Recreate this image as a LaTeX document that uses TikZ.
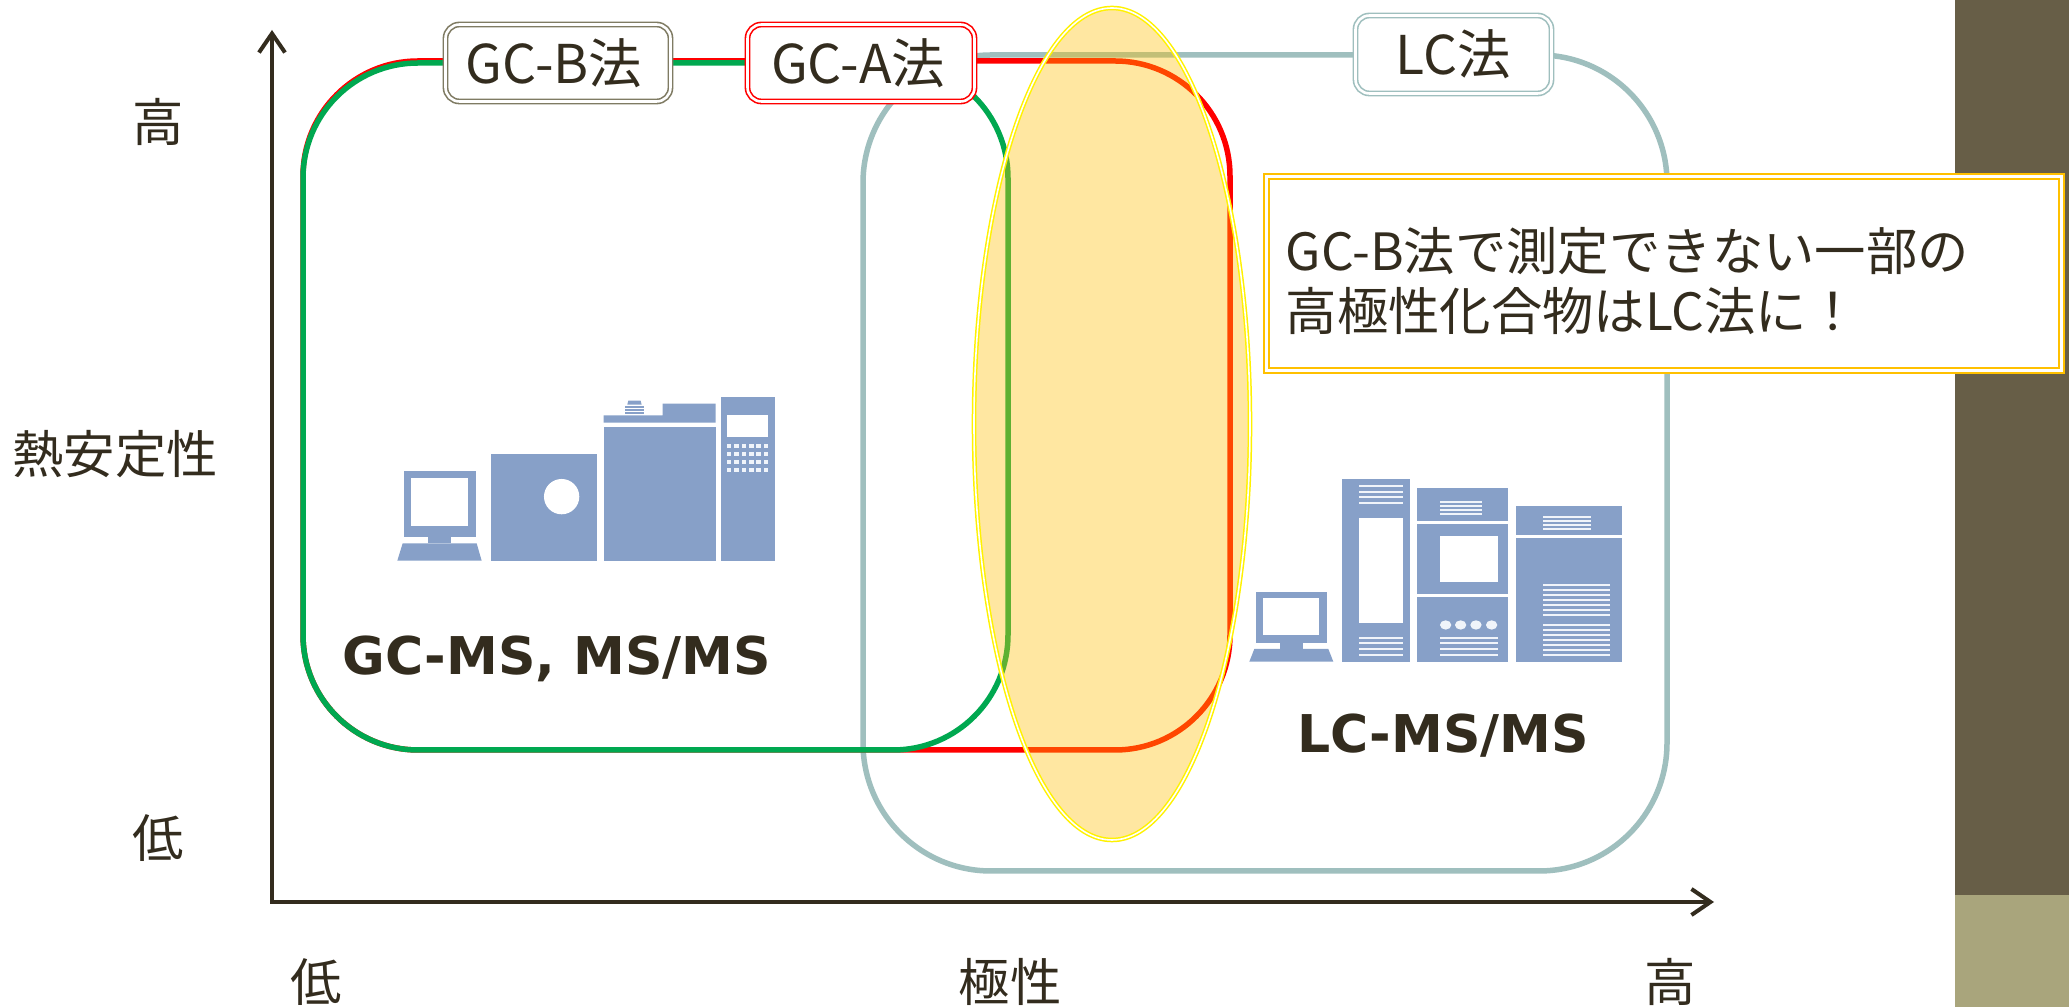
\documentclass[tikz,border=0pt]{standalone}
\usepackage{fontspec}
\usetikzlibrary{arrows.meta,shapes.geometric}
\setmainfont{Noto Sans CJK JP}
\newfontfamily\boldlatin{DejaVu Sans}
\newdimen\px \px=0.01cm
\newcommand\remarkfont{\fontsize{14.6}{17}\selectfont\lineskiplimit=-20pt\relax}
\definecolor{inkbrown}{HTML}{332C1E}
\definecolor{panelDark}{HTML}{675E47}
\definecolor{panelLight}{HTML}{A9A57C}
\definecolor{gcgreen}{HTML}{00A850}
\definecolor{lcteal}{HTML}{9FBFBE}
\definecolor{gold}{HTML}{FFC000}
\definecolor{instrument}{HTML}{87A0C8}
\definecolor{stripe}{HTML}{F0F4FA}
\definecolor{tagbrown}{HTML}{7F7B63}
\pgfdeclareradialshading{pageglow}{\pgfpoint{0bp}{0bp}}{%
  color(0bp)=(white); color(52bp)=(white); color(60bp)=(white!97!black); color(71bp)=(white!90!black); color(100bp)=(white!90!black)}
\tikzset{
  region/.style={line width=5.5\px, rounded corners=115\px},
  axisline/.style={draw=inkbrown, line width=4\px, -{Straight Barb[length=5.4pt,width=7.4pt,line width=1.14pt]}},
  tag/.style={draw=#1, double=white, line width=1.6\px, double distance=2.6\px, fill=white,
    rounded corners=14\px, inner sep=0pt, text=inkbrown, font=\fontsize{15.2}{18}\selectfont},
  axislabel/.style={text=inkbrown, inner sep=0pt, font=\fontsize{14.6}{17}\selectfont},
  instrname/.style={text=inkbrown, inner sep=0pt, font=\fontsize{14.8}{17}\selectfont\boldlatin\bfseries},
  unit/.style={fill=instrument},
  hole/.style={fill=white},
  line/.style={fill=stripe},
}
\begin{document}
\begin{tikzpicture}[x=1\px,y=-1\px]
\useasboundingbox (0,0) rectangle (2069,1007);
% page background with its soft corners
\begin{scope}
  \clip (0,0) rectangle (1955,1007);
  \shade[shading=pageglow] (-130,0) rectangle (1955,1007);
\end{scope}
\fill[panelDark] (1955,0) rectangle (2069,895);
\fill[panelLight] (1955,895) rectangle (2069,1007);

% axes
\coordinate (origin) at (272,902);
\coordinate (ytip) at (272,30);
\coordinate (xtip) at (1714,902);
\draw[axisline, line cap=rect] (origin) -- (ytip);
\draw[axisline] (origin) -- (xtip);
\node[axislabel] (yhigh) at (158,122) {高};
\node[axislabel] (ytitle) at (115,454) {熱安定性};
\node[axislabel] (ylow) at (158,838) {低};
\node[axislabel] (xlow) at (316,982) {低};
\node[axislabel] (xtitle) at (1010,982) {極性};
\node[axislabel] (xhigh) at (1670,982) {高};

% method ranges
\draw[region, lcteal, rounded corners=128\px] (863,55) rectangle (1667,871);
\draw[region, red] (303,61) rectangle (1230,750);
\draw[region, gcgreen] (303,63) rectangle (1008,750);

% overlap highlight
\fill[gold, fill opacity=.37] (1112,424) ellipse [x radius=138, y radius=416];
\draw[draw=yellow, double=white, line width=1.5\px, double distance=1.6\px] (1112,424) ellipse [x radius=138, y radius=416];

% method tags
\node[tag=tagbrown, minimum width=225\px, minimum height=77\px] (gcb) at (558,63) {GC-B法\kern8\px};
\node[tag=red, minimum width=227\px, minimum height=77\px] (gca) at (861,63) {GC-A法\kern6\px};
\node[tag=lcteal, minimum width=196\px, minimum height=78\px] (lc) at (1453.5,54.5) {LC法};

% remark box
\node[draw=gold, double=white, line width=2\px, double distance=3\px, fill=white, sharp corners,
  minimum width=795\px, minimum height=194\px, inner sep=0pt] (remark) at (1664,274) {};
\node[anchor=west, text=inkbrown, inner sep=0pt, align=left,
  font=\remarkfont] (remarktext) at (1285,281) {GC-B法で測定できない一部の\\高極性化合物はLC法に！};

% gas chromatograph set
\begin{scope}[shift={(380,380)}, x=.3333\px, y=-.3333\px]
  \fill[unit] (71,272) rectangle (288,470);
  \fill[hole] (93,293) rectangle (265,437);
  \fill[unit] (145,470) rectangle (213,490);
  \fill[unit] (68,490) -- (290,490) -- (305,542) -- (52,542) -- cycle;
  \fill[unit] (332,222) rectangle (652,542);
  \fill[hole] (545,350) circle [radius=53];
  \fill[unit] (671,142) rectangle (1007,542);
  \fill[unit] (671,106) -- (848,106) -- (848,71) -- (1007,71) -- (1007,128) -- (671,128) -- cycle;
  \fill[unit] (745,62) -- (782,62) -- (785,74) -- (742,74) -- cycle;
  \fill[unit] (735,79) rectangle (792,85);
  \fill[unit] (735,88) rectangle (792,93);
  \fill[unit] (735,96) rectangle (792,101);
  \fill[unit] (1022,52) rectangle (1185,542);
  \fill[hole] (1040,104) rectangle (1165,170);
  \foreach \cx in {1047,1069,1092,1114,1136,1158}
    \foreach \cy in {198,222,246,270}
      \fill[line] (\cx-7,\cy-7) rectangle (\cx+7,\cy+7);
\end{scope}
\node[instrname] (gcname) at (557,659) {GC-MS, MS/MS};

% liquid chromatograph set
\begin{scope}[shift={(1230,460)}, x=.3333\px, y=-.3333\px]
  \fill[unit] (78,396) rectangle (290,550);
  \fill[hole] (100,413) rectangle (268,524);
  \fill[unit] (150,550) rectangle (218,567);
  \fill[unit] (73,567) -- (295,567) -- (310,605) -- (58,605) -- cycle;
  \fill[unit] (336,57) rectangle (541,605);
  \fill[hole] (387,175) rectangle (518,490);
  \foreach \cy in {78,96,112,128,534,550,567,584}
    \fill[line] (387,\cy-3) rectangle (518,\cy+3);
  \fill[unit] (560,85) rectangle (834,183);
  \foreach \cy in {126,137,150,162}
    \fill[line] (630,\cy-3) rectangle (757,\cy+3);
  \fill[unit] (560,193) rectangle (834,402);
  \fill[hole] (630,229) rectangle (803,366);
  \fill[unit] (560,412) rectangle (834,605);
  \foreach \cx in {647,692,738,785}
    \fill[line] (\cx,495) ellipse [x radius=17, y radius=14];
  \foreach \cy in {534,550,567,584}
    \fill[line] (630,\cy-3) rectangle (803,\cy+3);
  \fill[unit] (859,137) rectangle (1176,224);
  \foreach \cy in {172,184,195,206}
    \fill[line] (938,\cy-3) rectangle (1083,\cy+3);
  \fill[unit] (859,234) rectangle (1176,605);
  \foreach \cy in {374,389,404,419,434,449,464,495,510,525,540,555,570,585}
    \fill[line] (938,\cy-3) rectangle (1140,\cy+3);
\end{scope}
\node[instrname] (lcname) at (1443,736) {LC-MS/MS};
\end{tikzpicture}
\end{document}
